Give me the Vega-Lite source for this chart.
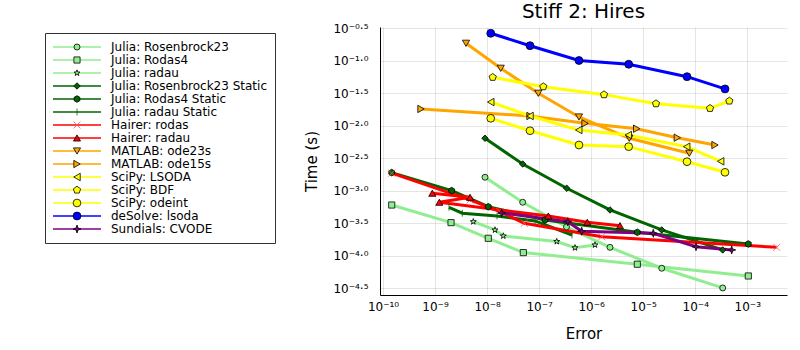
{
  "$schema": "https://vega.github.io/schema/vega-lite/v6.json",
  "width": 407,
  "height": 268,
  "autosize": {"type": "none"},
  "padding": {"left": 380, "top": 27, "right": 13, "bottom": 55},
  "background": "white",
  "title": {"text": "Stiff 2: Hires", "fontSize": 20, "font": "DejaVu Sans", "fontWeight": "normal", "anchor": "middle", "offset": 0, "color": "black"},
  "config": {
    "view": {"stroke": null},
    "axis": {
      "labelFont": "DejaVu Sans", "labelFontSize": 12, "labelColor": "black",
      "titleFont": "DejaVu Sans", "titleFontSize": 15, "titleFontWeight": "normal", "titleColor": "black",
      "grid": true, "gridColor": "#000000", "gridOpacity": 0.1, "gridWidth": 1,
      "domainColor": "black", "domainWidth": 1, "ticks": false,
      "labelOverlap": false, "labelFlush": false
    },
    "legend": {"labelFont": "DejaVu Sans", "labelFontSize": 12, "labelColor": "black"}
  },
  "data": {"values": [
    {"solver": "Julia: Rosenbrock23", "k": 1, "error": 9.12e-9, "time": 0.00162},
    {"solver": "Julia: Rosenbrock23", "k": 2, "error": 4.83e-8, "time": 0.000667},
    {"solver": "Julia: Rosenbrock23", "k": 3, "error": 3.357e-7, "time": 0.000278},
    {"solver": "Julia: Rosenbrock23", "k": 4, "error": 2.301e-6, "time": 0.000135},
    {"solver": "Julia: Rosenbrock23", "k": 5, "error": 2.27e-5, "time": 0.0000643},
    {"solver": "Julia: Rosenbrock23", "k": 6, "error": 3.373e-4, "time": 0.000032},
    {"solver": "Julia: Rodas4", "k": 1, "error": 1.469e-10, "time": 0.000605},
    {"solver": "Julia: Rodas4", "k": 2, "error": 2.028e-9, "time": 0.000324},
    {"solver": "Julia: Rodas4", "k": 3, "error": 1.054e-8, "time": 0.000186},
    {"solver": "Julia: Rodas4", "k": 4, "error": 4.97e-8, "time": 0.000112},
    {"solver": "Julia: Rodas4", "k": 5, "error": 7.71e-6, "time": 0.0000741},
    {"solver": "Julia: Rodas4", "k": 6, "error": 1.047e-3, "time": 0.0000489},
    {"solver": "Julia: radau", "k": 1, "error": 5.433e-9, "time": 0.000335},
    {"solver": "Julia: radau", "k": 2, "error": 1.419e-8, "time": 0.00025},
    {"solver": "Julia: radau", "k": 3, "error": 2.051e-8, "time": 0.000202},
    {"solver": "Julia: radau", "k": 4, "error": 2.178e-7, "time": 0.000166},
    {"solver": "Julia: radau", "k": 5, "error": 4.89e-7, "time": 0.000133},
    {"solver": "Julia: radau", "k": 6, "error": 1.186e-6, "time": 0.000147},
    {"solver": "Julia: Rosenbrock23 Static", "k": 1, "error": 9.12e-9, "time": 0.00645},
    {"solver": "Julia: Rosenbrock23 Static", "k": 2, "error": 4.83e-8, "time": 0.00259},
    {"solver": "Julia: Rosenbrock23 Static", "k": 3, "error": 3.39e-7, "time": 0.001096},
    {"solver": "Julia: Rosenbrock23 Static", "k": 4, "error": 2.301e-6, "time": 0.000508},
    {"solver": "Julia: Rosenbrock23 Static", "k": 5, "error": 2.27e-5, "time": 0.00025},
    {"solver": "Julia: Rosenbrock23 Static", "k": 6, "error": 3.373e-4, "time": 0.000123},
    {"solver": "Julia: Rodas4 Static", "k": 1, "error": 1.469e-10, "time": 0.00191},
    {"solver": "Julia: Rodas4 Static", "k": 2, "error": 2.089e-9, "time": 0.001007},
    {"solver": "Julia: Rodas4 Static", "k": 3, "error": 1.054e-8, "time": 0.00057},
    {"solver": "Julia: Rodas4 Static", "k": 4, "error": 1.297e-7, "time": 0.000356},
    {"solver": "Julia: Rodas4 Static", "k": 5, "error": 7.71e-6, "time": 0.00023},
    {"solver": "Julia: Rodas4 Static", "k": 6, "error": 1.047e-3, "time": 0.000152},
    {"solver": "Julia: radau Static", "k": 1, "error": 1.853e-9, "time": 0.000558},
    {"solver": "Julia: radau Static", "k": 2, "error": 3.342e-9, "time": 0.000452},
    {"solver": "Julia: radau Static", "k": 3, "error": 1.552e-8, "time": 0.00041},
    {"solver": "Julia: radau Static", "k": 4, "error": 8.34e-8, "time": 0.000344},
    {"solver": "Julia: radau Static", "k": 5, "error": 4.29e-7, "time": 0.000209},
    {"solver": "Hairer: rodas", "k": 1, "error": 1.469e-10, "time": 0.00187},
    {"solver": "Hairer: rodas", "k": 2, "error": 4.699e-9, "time": 0.000724},
    {"solver": "Hairer: rodas", "k": 3, "error": 1.77e-8, "time": 0.000478},
    {"solver": "Hairer: rodas", "k": 4, "error": 5.19e-8, "time": 0.000317},
    {"solver": "Hairer: rodas", "k": 5, "error": 1.596e-6, "time": 0.000197},
    {"solver": "Hairer: rodas", "k": 6, "error": 3.67e-3, "time": 0.000135},
    {"solver": "Hairer: radau", "k": 1, "error": 8.85e-10, "time": 0.000918},
    {"solver": "Hairer: radau", "k": 2, "error": 4.699e-9, "time": 0.000796},
    {"solver": "Hairer: radau", "k": 3, "error": 1.208e-9, "time": 0.000667},
    {"solver": "Hairer: radau", "k": 4, "error": 1.5e-7, "time": 0.00041},
    {"solver": "Hairer: radau", "k": 5, "error": 8.43e-7, "time": 0.000328},
    {"solver": "Hairer: radau", "k": 6, "error": 3.58e-6, "time": 0.000291},
    {"solver": "MATLAB: ode23s", "k": 1, "error": 3.936e-9, "time": 0.1871},
    {"solver": "MATLAB: ode23s", "k": 2, "error": 1.828e-8, "time": 0.0771},
    {"solver": "MATLAB: ode23s", "k": 3, "error": 9.64e-8, "time": 0.0318},
    {"solver": "MATLAB: ode23s", "k": 4, "error": 5.83e-7, "time": 0.01371},
    {"solver": "MATLAB: ode23s", "k": 5, "error": 5.41e-6, "time": 0.00645},
    {"solver": "MATLAB: ode23s", "k": 6, "error": 7.69e-5, "time": 0.00379},
    {"solver": "MATLAB: ode15s", "k": 1, "error": 5.37e-10, "time": 0.01824},
    {"solver": "MATLAB: ode15s", "k": 2, "error": 6.68e-8, "time": 0.01422},
    {"solver": "MATLAB: ode15s", "k": 3, "error": 7.62e-7, "time": 0.01096},
    {"solver": "MATLAB: ode15s", "k": 4, "error": 7.5e-6, "time": 0.00906},
    {"solver": "MATLAB: ode15s", "k": 5, "error": 4.52e-5, "time": 0.00659},
    {"solver": "MATLAB: ode15s", "k": 6, "error": 2.399e-4, "time": 0.00508},
    {"solver": "SciPy: LSODA", "k": 1, "error": 1.175e-8, "time": 0.0233},
    {"solver": "SciPy: LSODA", "k": 2, "error": 6.68e-8, "time": 0.01422},
    {"solver": "SciPy: LSODA", "k": 3, "error": 5.77e-7, "time": 0.00865},
    {"solver": "SciPy: LSODA", "k": 4, "error": 5.18e-6, "time": 0.00724},
    {"solver": "SciPy: LSODA", "k": 5, "error": 6.85e-5, "time": 0.00479},
    {"solver": "SciPy: LSODA", "k": 6, "error": 3.083e-4, "time": 0.00285},
    {"solver": "SciPy: BDF", "k": 1, "error": 1.282e-8, "time": 0.0561},
    {"solver": "SciPy: BDF", "k": 2, "error": 1.202e-7, "time": 0.0402},
    {"solver": "SciPy: BDF", "k": 3, "error": 1.766e-6, "time": 0.0303},
    {"solver": "SciPy: BDF", "k": 4, "error": 1.762e-5, "time": 0.022},
    {"solver": "SciPy: BDF", "k": 5, "error": 1.923e-4, "time": 0.01866},
    {"solver": "SciPy: BDF", "k": 6, "error": 4.52e-4, "time": 0.0242},
    {"solver": "SciPy: odeint", "k": 1, "error": 1.175e-8, "time": 0.01309},
    {"solver": "SciPy: odeint", "k": 2, "error": 6.68e-8, "time": 0.00843},
    {"solver": "SciPy: odeint", "k": 3, "error": 5.83e-7, "time": 0.00508},
    {"solver": "SciPy: odeint", "k": 4, "error": 5.26e-6, "time": 0.00479},
    {"solver": "SciPy: odeint", "k": 5, "error": 6.95e-5, "time": 0.00281},
    {"solver": "SciPy: odeint", "k": 6, "error": 3.733e-4, "time": 0.00193},
    {"solver": "deSolve: lsoda", "k": 1, "error": 1.175e-8, "time": 0.2667},
    {"solver": "deSolve: lsoda", "k": 2, "error": 6.68e-8, "time": 0.1718},
    {"solver": "deSolve: lsoda", "k": 3, "error": 5.83e-7, "time": 0.1016},
    {"solver": "deSolve: lsoda", "k": 4, "error": 5.26e-6, "time": 0.0889},
    {"solver": "deSolve: lsoda", "k": 5, "error": 6.95e-5, "time": 0.0573},
    {"solver": "deSolve: lsoda", "k": 6, "error": 3.733e-4, "time": 0.0371},
    {"solver": "Sundials: CVODE", "k": 1, "error": 1.91e-8, "time": 0.000456},
    {"solver": "Sundials: CVODE", "k": 2, "error": 3.54e-7, "time": 0.000335},
    {"solver": "Sundials: CVODE", "k": 3, "error": 6.58e-7, "time": 0.000239},
    {"solver": "Sundials: CVODE", "k": 4, "error": 1.563e-5, "time": 0.000222},
    {"solver": "Sundials: CVODE", "k": 5, "error": 1.035e-4, "time": 0.000138},
    {"solver": "Sundials: CVODE", "k": 6, "error": 5.02e-4, "time": 0.000123}
  ]},
  "encoding": {
    "x": {
      "field": "error", "type": "quantitative",
      "scale": {"type": "log", "domain": [8.75e-11, 5.8e-3], "nice": false},
      "axis": {
        "title": "Error", "titlePadding": 14, "labelPadding": 6,
        "values": [1e-10, 1e-9, 1e-8, 1e-7, 1e-6, 1e-5, 1e-4, 1e-3],
        "labelExpr": "['10⁰','10⁻¹','10⁻²','10⁻³','10⁻⁴','10⁻⁵','10⁻⁶','10⁻⁷','10⁻⁸','10⁻⁹','10⁻¹⁰'][round(-log(datum.value)/LN10)]"
      }
    },
    "y": {
      "field": "time", "type": "quantitative",
      "scale": {"type": "log", "domain": [2.49e-5, 0.3334], "nice": false},
      "axis": {
        "title": "Time (s)", "titlePadding": 13, "labelPadding": 12,
        "values": [0.316228, 0.1, 0.0316228, 0.01, 0.00316228, 0.001, 0.000316228, 0.0001, 0.0000316228],
        "labelExpr": "['','10⁻⁰·⁵','10⁻¹·⁰','10⁻¹·⁵','10⁻²·⁰','10⁻²·⁵','10⁻³·⁰','10⁻³·⁵','10⁻⁴·⁰','10⁻⁴·⁵'][round(-2*log(datum.value)/LN10)]"
      }
    }
  },
  "layer": [
    {
      "mark": {"type": "line", "strokeWidth": 3},
      "encoding": {
        "color": {
          "field": "solver", "type": "nominal",
          "sort": ["Julia: Rosenbrock23", "Julia: Rodas4", "Julia: radau", "Julia: Rosenbrock23 Static", "Julia: Rodas4 Static", "Julia: radau Static", "Hairer: rodas", "Hairer: radau", "MATLAB: ode23s", "MATLAB: ode15s", "SciPy: LSODA", "SciPy: BDF", "SciPy: odeint", "deSolve: lsoda", "Sundials: CVODE"],
          "scale": {"range": ["#90ee90", "#90ee90", "#90ee90", "#006400", "#006400", "#006400", "#ff0000", "#ff0000", "#ffa500", "#ffa500", "#ffff00", "#ffff00", "#ffff00", "#0000ff", "#800080"]},
          "legend": {
            "title": null, "orient": "none", "legendX": -335, "legendY": 6,
            "symbolType": "M-5.333,0L5.333,0", "symbolSize": 81, "symbolStrokeWidth": 1.5,
            "symbolOffset": 18, "rowPadding": 1, "labelOffset": 28,
            "padding": 8, "strokeColor": "#333333", "fillColor": "white"
          }
        },
        "order": {"field": "k", "type": "quantitative"}
      }
    },
    {
      "mark": {"type": "point", "filled": true, "opacity": 1, "strokeWidth": 0.8},
      "encoding": {
        "fill": {
          "field": "solver", "type": "nominal",
          "scale": {
            "domain": ["Julia: Rosenbrock23", "Julia: Rodas4", "Julia: radau", "Julia: Rosenbrock23 Static", "Julia: Rodas4 Static", "Julia: radau Static", "Hairer: rodas", "Hairer: radau", "MATLAB: ode23s", "MATLAB: ode15s", "SciPy: LSODA", "SciPy: BDF", "SciPy: odeint", "deSolve: lsoda", "Sundials: CVODE"],
            "range": ["#90ee90", "#90ee90", "#90ee90", "#006400", "#006400", "#006400", "#ff0000", "#ff0000", "#ffa500", "#ffa500", "#ffff00", "#ffff00", "#ffff00", "#0000ff", "#800080"]
          },
          "legend": {
            "title": null, "orient": "none", "legendX": -335, "legendY": 6,
            "symbolOffset": 18, "rowPadding": 1,
            "padding": 8, "labelExpr": "''", "symbolStrokeWidth": 0.8
          }
        },
        "stroke": {
          "field": "solver", "type": "nominal",
          "scale": {
            "domain": ["Julia: Rosenbrock23", "Julia: Rodas4", "Julia: radau", "Julia: Rosenbrock23 Static", "Julia: Rodas4 Static", "Julia: radau Static", "Hairer: rodas", "Hairer: radau", "MATLAB: ode23s", "MATLAB: ode15s", "SciPy: LSODA", "SciPy: BDF", "SciPy: odeint", "deSolve: lsoda", "Sundials: CVODE"],
            "range": ["#000000", "#000000", "#000000", "#000000", "#000000", "#006400", "#ff5555", "#000000", "#000000", "#000000", "#000000", "#000000", "#000000", "#000000", "#000000"]
          }
        },
        "shape": {
          "field": "solver", "type": "nominal",
          "scale": {
            "domain": ["Julia: Rosenbrock23", "Julia: Rodas4", "Julia: radau", "Julia: Rosenbrock23 Static", "Julia: Rodas4 Static", "Julia: radau Static", "Hairer: rodas", "Hairer: radau", "MATLAB: ode23s", "MATLAB: ode15s", "SciPy: LSODA", "SciPy: BDF", "SciPy: odeint", "deSolve: lsoda", "Sundials: CVODE"],
            "range": ["circle", "square", "M0,-1L0.235,-0.324L0.951,-0.309L0.38,0.124L0.588,0.809L0,0.4L-0.588,0.809L-0.38,0.124L-0.951,-0.309L-0.235,-0.324Z", "diamond", "M0,-1L0.866,-0.5L0.866,0.5L0,1L-0.866,0.5L-0.866,-0.5Z", "M0,-1L0,1", "M-1,-1L1,1M1,-1L-1,1", "triangle-up", "triangle-down", "triangle-right", "triangle-left", "M0,-1L0.951,-0.309L0.588,0.809L-0.588,0.809L-0.951,-0.309Z", "circle", "circle", "M0,-1L0.25,-0.25L1,0L0.25,0.25L0,1L-0.25,0.25L-1,0L-0.25,-0.25Z"]
          }
        },
        "size": {
          "field": "solver", "type": "nominal",
          "scale": {
            "domain": ["Julia: Rosenbrock23", "Julia: Rodas4", "Julia: radau", "Julia: Rosenbrock23 Static", "Julia: Rodas4 Static", "Julia: radau Static", "Hairer: rodas", "Hairer: radau", "MATLAB: ode23s", "MATLAB: ode15s", "SciPy: LSODA", "SciPy: BDF", "SciPy: odeint", "deSolve: lsoda", "Sundials: CVODE"],
            "range": [36, 64, 49, 56, 56, 49, 64, 64, 72, 40, 40, 64, 56, 64, 64]
          }
        }
      }
    }
  ]
}
